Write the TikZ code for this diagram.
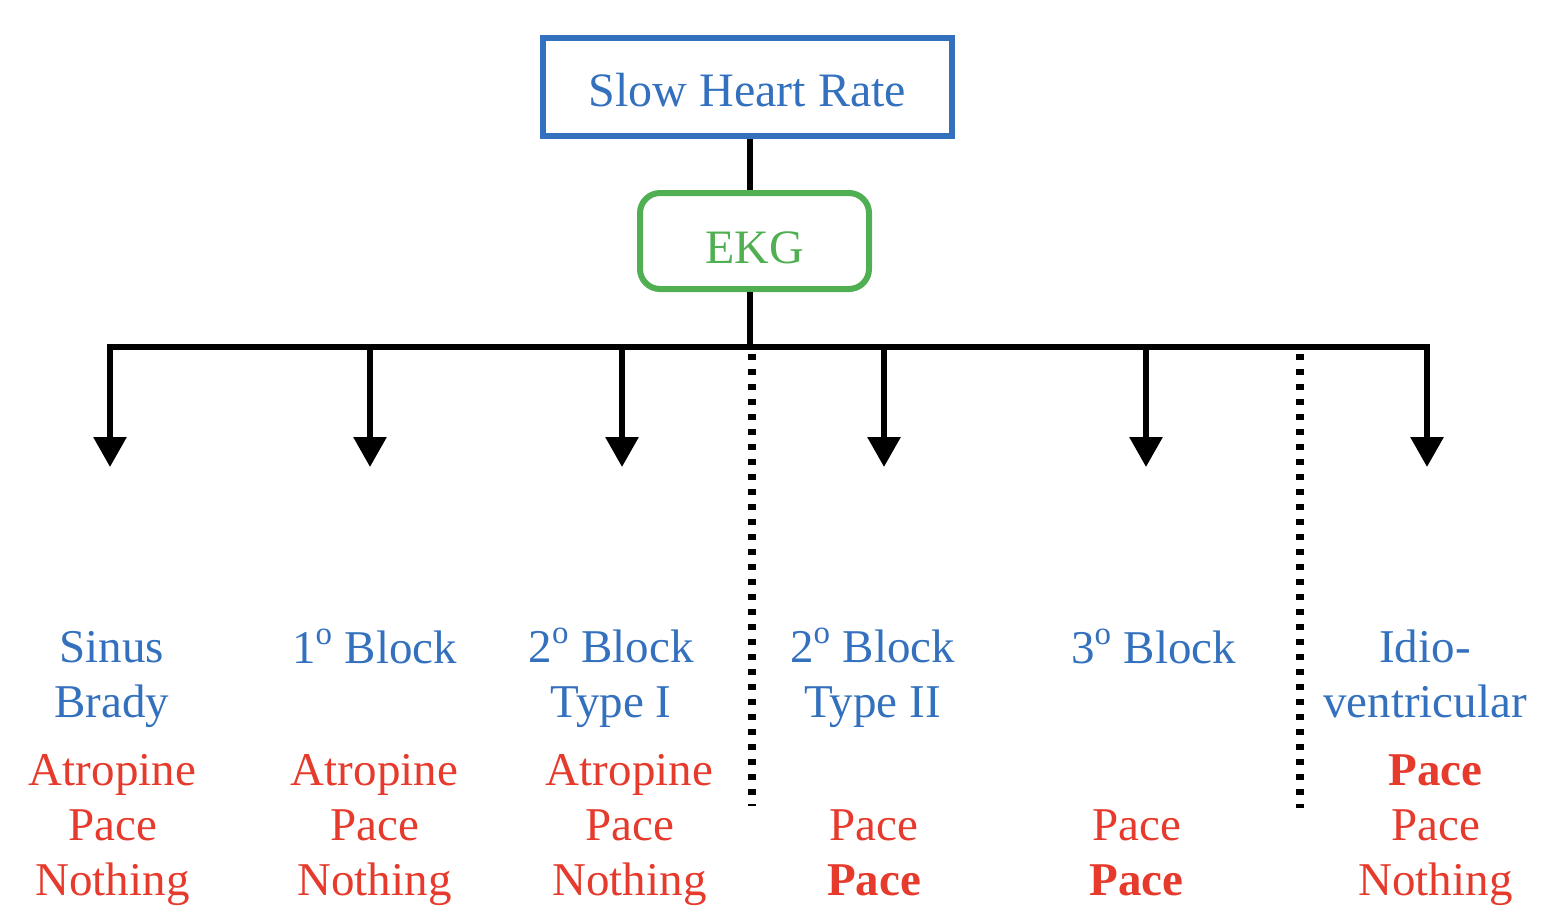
\documentclass[tikz,border=0pt]{standalone}
\usepackage{fontspec}
\setmainfont{Liberation Serif}
\usetikzlibrary{arrows.meta}
\definecolor{hblue}{HTML}{3370BD}
\definecolor{hgreen}{HTML}{4FAF52}
\definecolor{hred}{HTML}{E53A2C}
\begin{document}
\begin{tikzpicture}[x=0.5pt,y=-0.5pt,
  lbl/.style={font=\fontsize{23.5}{27.5}\selectfont, align=center, inner sep=0pt, anchor=base},
  blu/.style={lbl,text=hblue},
  rd/.style={lbl,text=hred},
  conn/.style={line width=3.3pt},
  arr/.style={line width=3pt,-{Triangle[width=16pt,length=15pt]}},
  sepline/.style={line width=3.6pt, dash pattern=on 3.2pt off 4.3pt}]
\useasboundingbox (0,0) rectangle (1566,912);
% boxes
\node[draw=hblue, line width=3pt, minimum width=204.5pt, minimum height=49pt, inner sep=0pt,
  text height=19pt, text depth=0pt,
  text=hblue, font=\fontsize{24}{28}\selectfont] (top) at (747.5,87) {Slow Heart Rate};
\node[draw=hgreen, line width=3pt, rounded corners=10pt, minimum width=114.5pt, minimum height=48pt,
  inner sep=0pt, text height=22pt, text depth=0pt,
  text=hgreen, font=\fontsize{24}{28}\selectfont] (ekg) at (754.5,241) {EKG};
% hub and bar
\coordinate (hub) at (750,347);
\coordinate (b1) at (110,347);
\coordinate (b2) at (370,347);
\coordinate (b3) at (622,347);
\coordinate (b4) at (884,347);
\coordinate (b5) at (1146,347);
\coordinate (b6) at (1427,347);
\coordinate (t1) at (110,467);
\coordinate (t2) at (370,467);
\coordinate (t3) at (622,467);
\coordinate (t4) at (884,467);
\coordinate (t5) at (1146,467);
\coordinate (t6) at (1427,467);
\draw[conn] (top.south -| hub) -- (ekg.north -| hub);
\draw[conn] (ekg.south -| hub) -- (hub);
\draw[conn] ([xshift=-1.6pt]b1) -- ([xshift=1.6pt]b6);
\foreach \i in {1,...,6} \draw[arr] (b\i) -- (t\i);
% separators
\coordinate (d1a) at (752,354);
\coordinate (d1b) at (752,806);
\coordinate (d2a) at (1300,354);
\coordinate (d2b) at (1300,808);
\draw[sepline] (d1a) -- (d1b);
\draw[sepline] (d2a) -- (d2b);
% labels (anchor = baseline of last line)
\node[blu] (c1) at (112,717) {Sinus\\Brady};
\node[rd] (r1) at (112.5,895) {Atropine\\Pace\\Nothing};
\node[blu] (c2) at (374.5,663) {1\textsuperscript{o} Block};
\node[rd] (r2) at (374.5,895) {Atropine\\Pace\\Nothing};
\node[blu] (c3) at (611,717) {2\textsuperscript{o} Block\\Type I};
\node[rd] (r3) at (629.5,895) {Atropine\\Pace\\Nothing};
\node[blu] (c4) at (872.5,717) {2\textsuperscript{o} Block\\Type II};
\node[rd] (r4) at (874,895) {Pace\\\textbf{Pace}};
\node[blu] (c5) at (1153.5,663) {3\textsuperscript{o} Block};
\node[rd] (r5) at (1136.5,895) {Pace\\\textbf{Pace}};
\node[blu] (c6) at (1425,717) {Idio-\\ventricular};
\node[rd] (r6) at (1435.5,895) {\textbf{Pace}\\Pace\\Nothing};
\end{tikzpicture}
\end{document}
